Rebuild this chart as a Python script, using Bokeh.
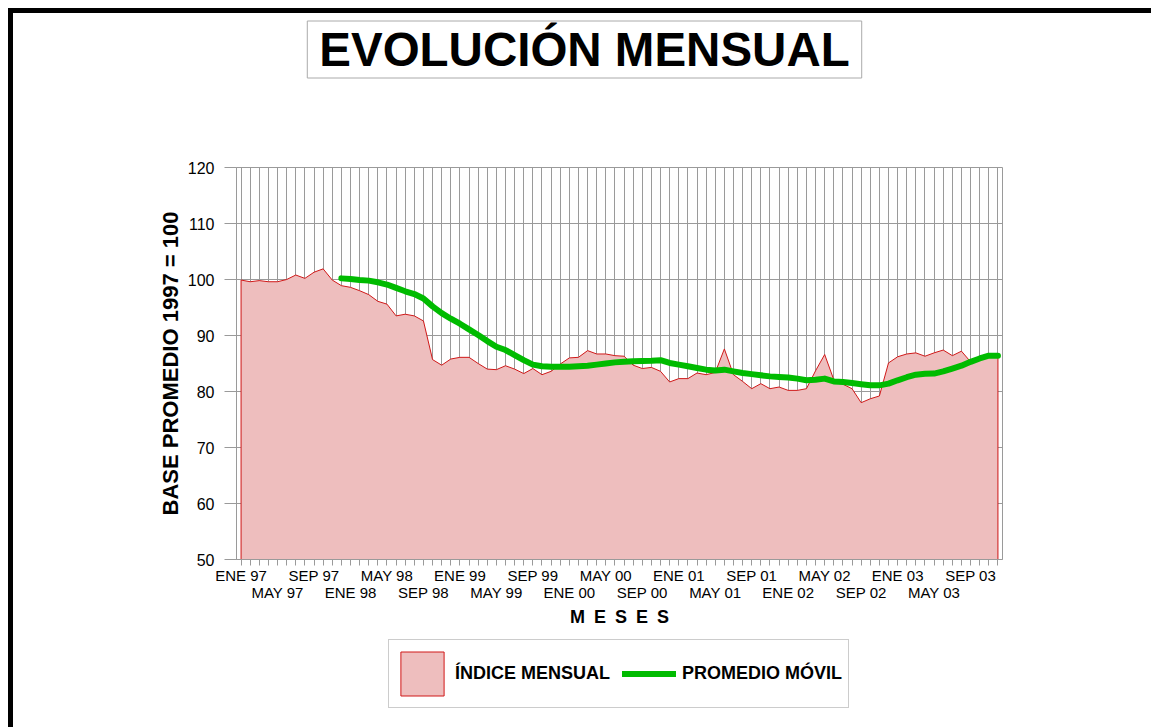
from bokeh.plotting import figure
from bokeh.layouts import column
from bokeh.models import (Range1d, FixedTicker, LinearAxis, Legend, LegendItem,
                          Grid, Label)
from bokeh.embed import file_html
from bokeh.resources import INLINE

# ---------------- data ----------------
indice_mensual = [
    99.9, 99.6, 99.8, 99.6, 99.6, 100.0, 100.8, 100.2, 101.3, 101.9, 99.9, 98.9,
    98.6, 98.0, 97.3, 96.1, 95.6, 93.5, 93.8, 93.5, 92.6, 85.7, 84.7, 85.8,
    86.1, 86.1, 85.0, 84.0, 83.9, 84.6, 84.0, 83.2, 84.1, 83.0, 83.6, 84.9,
    86.0, 86.1, 87.3, 86.7, 86.7, 86.4, 86.3, 84.7, 84.1, 84.3, 83.6, 81.7,
    82.3, 82.3, 83.3, 83.0, 83.4, 87.6, 83.0, 81.8, 80.5, 81.4, 80.5, 80.8,
    80.2, 80.2, 80.5, 83.7, 86.6, 82.1, 81.3, 80.5, 78.0, 78.7, 79.2, 85.1,
    86.2, 86.7, 86.9, 86.3, 86.9, 87.4, 86.4, 87.2, 85.3, 85.8, 86.2, 86.1,
]
# moving average (starts at DIC 97, month index 11)
promedio_movil_inicio = 11
promedio_movil = [
    100.2,
    100.1, 99.9, 99.8, 99.5, 99.1, 98.5, 97.9, 97.4, 96.6, 95.2, 94.0, 93.0,
    92.1, 91.1, 90.1, 89.0, 88.0, 87.4, 86.5, 85.6, 84.8, 84.5, 84.4, 84.4,
    84.4, 84.5, 84.6, 84.8, 85.0, 85.2, 85.3, 85.4, 85.45, 85.5, 85.6, 85.1,
    84.8, 84.5, 84.2, 83.9, 83.75, 83.9, 83.6, 83.3, 83.1, 82.9, 82.7, 82.6,
    82.5, 82.3, 82.0, 82.1, 82.3, 81.8, 81.7, 81.5, 81.3, 81.1, 81.1, 81.4,
    82.0, 82.55, 83.0, 83.15, 83.2, 83.6, 84.1, 84.6, 85.3, 85.9, 86.4, 86.4,
]
etiquetas_fila1 = ["ENE 97", "SEP 97", "MAY 98", "ENE 99", "SEP 99", "MAY 00",
                   "ENE 01", "SEP 01", "MAY 02", "ENE 03", "SEP 03"]
etiquetas_fila2 = ["MAY 97", "ENE 98", "SEP 98", "MAY 99", "ENE 00", "SEP 00",
                   "MAY 01", "ENE 02", "SEP 02", "MAY 03"]
y_ticks = [50, 60, 70, 80, 90, 100, 110, 120]
y_min, y_max = 50, 120

n = len(indice_mensual)
meses = list(range(n))
mov_x = list(range(promedio_movil_inicio, promedio_movil_inicio + len(promedio_movil)))
fila1_pos = meses[0::8]
fila2_pos = meses[4::8]

FONT = "Liberation Sans"
GRID = "#9a9a9a"
FILL = "#EEBEBE"
RED = "#D01818"
GREEN = "#00BB00"

W = 1138
H_TITLE, H_CHART, H_LEG = 143, 483, 88


def blank_figure(h):
    f = figure(width=W, height=h, output_backend="svg", toolbar_location=None,
               x_axis_location=None, y_axis_location=None,
               x_range=Range1d(0, 1), y_range=Range1d(0, 1),
               min_border=0, min_border_left=223, min_border_right=136,
               min_border_top=0, min_border_bottom=0)
    f.outline_line_color = None
    f.background_fill_color = "white"
    f.border_fill_color = "white"
    f.xgrid.visible = False
    f.ygrid.visible = False
    return f


# ---------------- title ----------------
p_title = blank_figure(H_TITLE)
p_title.add_layout(Label(x=348, y=107, x_units="screen", y_units="screen",
                         text="EVOLUCIÓN MENSUAL", text_font=FONT,
                         text_font_style="bold", text_font_size="47.5px",
                         text_color="black", text_align="center",
                         text_baseline="middle",
                         background_fill_color="white",
                         border_line_color="#aaaaaa", border_line_width=1,
                         padding=dict(left=12, right=12, top=2, bottom=2)))

# ---------------- chart ----------------
p = figure(width=W, height=H_CHART, output_backend="svg", toolbar_location=None,
           x_range=Range1d(-0.5, n - 0.5), y_range=Range1d(y_min, y_max),
           min_border_left=223, min_border_right=149,
           min_border_top=11, min_border_bottom=80,
           x_axis_location=None, y_axis_location=None)
p.background_fill_color = "white"
p.border_fill_color = "white"
p.outline_line_color = GRID
p.outline_line_width = 1

yax = LinearAxis(ticker=FixedTicker(ticks=y_ticks))
yax.axis_line_color = GRID
yax.major_tick_line_color = GRID
yax.major_tick_out = 12
yax.major_tick_in = 0
yax.minor_tick_line_color = None
yax.major_label_text_font = FONT
yax.major_label_text_font_size = "16px"
yax.major_label_text_color = "black"
yax.major_label_standoff = 10
yax.axis_label = "BASE PROMEDIO 1997 = 100"
yax.axis_label_text_font = FONT
yax.axis_label_text_font_style = "bold"
yax.axis_label_text_font_size = "22px"
yax.axis_label_text_color = "black"
yax.axis_label_standoff = 2
p.add_layout(yax, "left")

xax1 = LinearAxis(ticker=FixedTicker(ticks=meses))
overrides = {m: "" for m in meses}
overrides.update({pos: lab for pos, lab in zip(fila1_pos, etiquetas_fila1)})
xax1.major_label_overrides = overrides
xax1.axis_line_color = GRID
xax1.major_tick_line_color = GRID
xax1.major_tick_out = 6
xax1.major_tick_in = 0
xax1.minor_tick_line_color = None
xax1.major_label_text_font = FONT
xax1.major_label_text_font_size = "15px"
xax1.major_label_text_color = "black"
xax1.major_label_standoff = 1
p.add_layout(xax1, "below")

xax2 = LinearAxis(ticker=FixedTicker(ticks=fila2_pos))
xax2.major_label_overrides = {pos: lab for pos, lab in zip(fila2_pos, etiquetas_fila2)}
xax2.axis_line_color = None
xax2.major_tick_line_color = None
xax2.minor_tick_line_color = None
xax2.major_tick_out = 0
xax2.major_tick_in = 0
xax2.major_label_text_font = FONT
xax2.major_label_text_font_size = "15px"
xax2.major_label_text_color = "black"
xax2.major_label_standoff = -3
xax2.axis_label = "M\u2002E\u2002S\u2002E\u2002S"
xax2.axis_label_text_font = FONT
xax2.axis_label_text_font_style = "bold"
xax2.axis_label_text_font_size = "18px"
xax2.axis_label_text_color = "black"
xax2.axis_label_standoff = 3
p.add_layout(xax2, "below")

p.xgrid.visible = False
p.ygrid.visible = False
p.add_layout(Grid(dimension=0, ticker=FixedTicker(ticks=meses),
                  grid_line_color=GRID, grid_line_width=1))
p.add_layout(Grid(dimension=1, ticker=FixedTicker(ticks=y_ticks),
                  grid_line_color=GRID, grid_line_width=1))

area_x = [meses[0]] + meses + [meses[-1]]
area_y = [y_min] + indice_mensual + [y_min]
p.patch(area_x, area_y, fill_color=FILL, fill_alpha=1.0, line_color=RED, line_width=1)
p.line(mov_x, promedio_movil, line_color=GREEN, line_width=6,
       line_cap="round", line_join="round")

# ---------------- legend (own strip; its renderers fall outside its 0..1 ranges) ----------------
p_leg = blank_figure(H_LEG)
lg_area = p_leg.patch(area_x, area_y, fill_color=FILL, fill_alpha=1.0,
                      line_color=RED, line_width=1)
lg_line = p_leg.line(mov_x, promedio_movil, line_color=GREEN, line_width=6,
                     line_cap="round")
legend = Legend(items=[LegendItem(label="ÍNDICE MENSUAL", renderers=[lg_area]),
                       LegendItem(label="PROMEDIO MÓVIL", renderers=[lg_line])],
                orientation="horizontal", location=(152, 19),
                glyph_width=54, glyph_height=55, label_standoff=6, spacing=12,
                padding=6, margin=0,
                label_text_font=FONT, label_text_font_style="bold",
                label_text_font_size="18px", label_text_color="black",
                border_line_color=GRID, border_line_width=1,
                background_fill_color="white", background_fill_alpha=1.0)
p_leg.add_layout(legend, "center")

layout = column(p_title, p, p_leg, spacing=0)
layout.styles = {"margin-left": "8px", "margin-top": "8px",
                 "border-top": "5px solid black", "border-left": "5px solid black"}

open("out.html", "w").write(file_html(layout, INLINE))
